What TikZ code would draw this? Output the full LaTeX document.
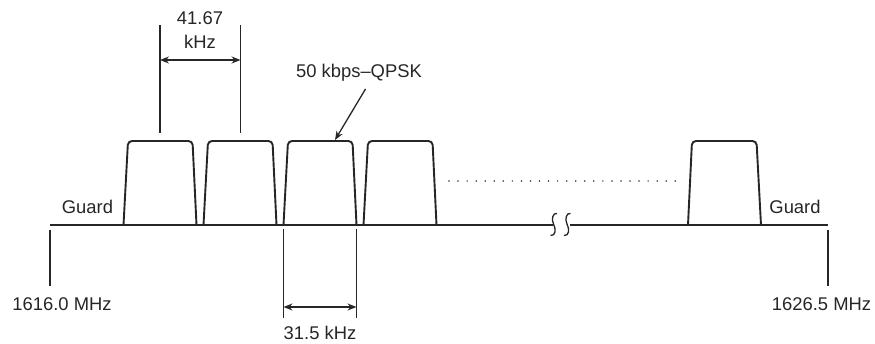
\documentclass[tikz,border=0pt]{standalone}
\usepackage{fontspec}
\setmainfont{Liberation Sans}
\usetikzlibrary{arrows.meta}
\tikzset{
  lbl/.style={inner sep=0pt, font=\fontsize{18.4}{24}\selectfont, text=black!85},
  ln/.style={line width=1.4pt, black!85},
  filt/.style={line width=1.9pt, black!85, rounded corners=4pt},
  dim/.style={line width=1.3pt, black!85, {Stealth[length=9pt,width=7pt]}-{Stealth[length=9pt,width=7pt]}},
  ext/.style={line width=1.2pt, black!85},
  brk/.style={line width=1.3pt, black!85}
}
\begin{document}
\begin{tikzpicture}[x=1pt,y=-1pt]
\useasboundingbox (0,0) rectangle (875,344);
% axis
\coordinate (axL) at (50,225);
\coordinate (axR) at (828,225);
\coordinate (brL) at (553,225);
\coordinate (brR) at (570,225);
\draw[ln] (axL) -- (brL);
\draw[ln] (brR) -- (axR);
% break symbol
\draw[brk] (557,213.5) .. controls (553,212.5) and (551,219) .. (553.5,224) .. controls (556,229) and (556,236) .. (550.5,235.5);
\draw[brk] (570.5,213.5) .. controls (566.5,212.5) and (564.5,219) .. (567,224) .. controls (569.5,229) and (569.5,236) .. (564,235.5);
% ticks
\coordinate (tL1) at (50,230);
\coordinate (tL2) at (50,286);
\coordinate (tR1) at (828,230);
\coordinate (tR2) at (828,286);
\draw[ext] (tL1) -- (tL2);
\draw[ext] (tR1) -- (tR2);
% filters
\draw[filt] (123.5,225) -- (128,141) -- (192.5,141) -- (196.5,225);
\draw[filt] (203.5,225) -- (208,141) -- (272.5,141) -- (276.5,225);
\draw[filt] (283.5,225) -- (288,141) -- (352.5,141) -- (356.5,225);
\draw[filt] (363.5,225) -- (368,141) -- (432.5,141) -- (436.5,225);
\draw[filt] (688,225) -- (692,141) -- (756.5,141) -- (761,225);
% dots
\coordinate (dA) at (449,181);
\coordinate (dB) at (677,181);
\draw[line width=1.7pt, black!80, line cap=round, dash pattern=on 0pt off 9.05pt] (dA) -- (dB);
% 41.67 kHz dimension
\coordinate (e1a) at (160,25);
\coordinate (e1b) at (160,133);
\coordinate (e2a) at (240.5,25);
\coordinate (e2b) at (240.5,133);
\draw[ext] (e1a) -- (e1b);
\draw[ext] (e2a) -- (e2b);
\coordinate (d1a) at (160,60);
\coordinate (d1b) at (240.5,60);
\draw[dim] (d1a) -- (d1b);
\node[lbl] (f4167) at (200,18) {41.67};
\node[lbl] (fkhz) at (200,42) {kHz};
% 31.5 kHz dimension
\coordinate (e3a) at (283.5,229);
\coordinate (e3b) at (283.5,318);
\coordinate (e4a) at (356.5,229);
\coordinate (e4b) at (356.5,318);
\draw[ext] (e3a) -- (e3b);
\draw[ext] (e4a) -- (e4b);
\coordinate (d2a) at (283.5,307);
\coordinate (d2b) at (356.5,307);
\draw[dim] (d2a) -- (d2b);
\node[lbl] (f315) at (320,333) {31.5 kHz};
% QPSK label
\node[lbl] (qpsk) at (359,73) {50 kbps--QPSK};
\coordinate (qs) at (365.5,89);
\coordinate (qe) at (335,140);
\draw[line width=1.3pt, black!85, -{Stealth[length=9pt,width=7pt]}] (qs) -- (qe);
% guards & freq labels
\node[lbl] (g1) at (87.5,207) {Guard};
\node[lbl] (g2) at (795,207) {Guard};
\node[lbl] (fL) at (62,304) {1616.0 MHz};
\node[lbl] (fR) at (821.5,304) {1626.5 MHz};
\end{tikzpicture}
\end{document}
